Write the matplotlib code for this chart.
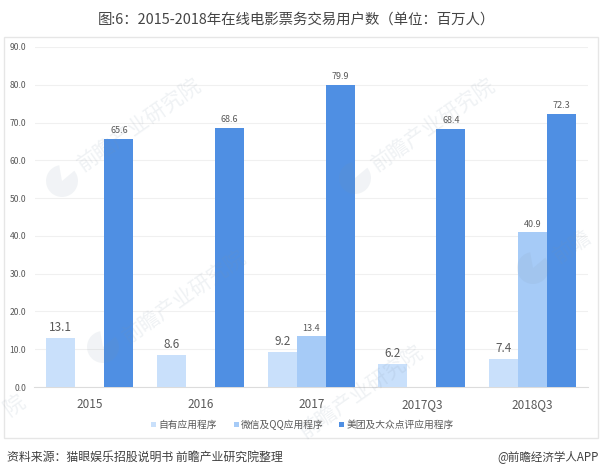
import matplotlib
matplotlib.use("Agg")
import matplotlib.pyplot as plt
from matplotlib.patches import Rectangle, Wedge
from matplotlib.transforms import IdentityTransform
import numpy as np

plt.rcParams['font.family'] = ['Noto Sans CJK SC', 'DejaVu Sans']

# data, None = no bar
categories = ['2015', '2016', '2017', '2017Q3', '2018Q3']
own_app = [13.1, 8.6, 9.2, 6.2, 7.4]
wechat_qq = [None, None, 13.4, None, 40.9]
meituan = [65.6, 68.6, 79.9, 68.4, 72.3]
series_names = ['自有应用程序', '微信及QQ应用程序', '美团及大众点评应用程序']
y_ticks = [0, 10, 20, 30, 40, 50, 60, 70, 80, 90]

colors = ['#c9e0fb', '#a6cbf7', '#4f8fe3']
W, H = 600, 473

fig = plt.figure(figsize=(W / 100, H / 100), dpi=100)

# outer frame
fig.add_artist(Rectangle((3.5 / W, 1 - 437.5 / H), 594 / W, 400.5 / H, transform=fig.transFigure,
                         fill=False, ec='#e6e6e6', lw=1))

ax = fig.add_axes([34.5 / W, 1 - 387 / H, 553.5 / W, 340 / H])
x = np.arange(len(categories))
w = 0.262

for i, vals in enumerate([own_app, wechat_qq, meituan]):
    for j, v in enumerate(vals):
        if v is None:
            continue
        ax.bar(x[j] + (i - 1) * w, v, w, color=colors[i], zorder=3)
        # first series has bigger labels in the source
        if i == 0:
            ax.text(x[j] + (i - 1) * w, v + 1.0, '%.1f' % v, ha='center', va='bottom',
                    fontsize=8.5, color='#595959', zorder=5)
        else:
            ax.text(x[j] + (i - 1) * w, v + 1.0, '%.1f' % v, ha='center', va='bottom',
                    fontsize=6.5, color='#595959', zorder=5)

ax.set_xlim(-0.5, len(categories) - 0.5)
ax.set_ylim(0, 90)
ax.set_yticks(y_ticks)
ax.set_yticklabels(['%.1f' % t for t in y_ticks], fontsize=6.2, color='#595959')
ax.set_xticks(x)
ax.set_xticklabels(categories, fontsize=8.5, color='#595959')
ax.tick_params(axis='both', length=0)
ax.tick_params(axis='x', pad=8)
ax.tick_params(axis='y', pad=6)
ax.grid(axis='y', color='#f0f0f0', lw=0.8, zorder=0)
ax.set_axisbelow(True)
for s in ['top', 'right', 'left']:
    ax.spines[s].set_visible(False)
ax.spines['bottom'].set_color('#dcdcdc')
ax.patch.set_alpha(0)

# watermarks, the two at the edges only show part of the text
wm_texts = [('前瞻产业研究院', 140, 125), ('前瞻产业研究院', 434, 125), ('前瞻产业研究院', 185, 297),
            ('前瞻产业研究院', 362, 392), ('前瞻', 572, 246), ('院', 14, 405)]
for txt, wx, wy in wm_texts:
    fig.text(wx / W, 1 - wy / H, txt, fontsize=15, color='#7f93a8', alpha=0.12,
             rotation=35, ha='center', va='center', zorder=10)
for cx, cy in [(62, 181), (355, 178), (103, 347), (533, 268)]:
    fig.add_artist(Wedge((cx, H - cy), 16, 100, 40, transform=IdentityTransform(),
                         color='#7f93a8', alpha=0.10, lw=0, zorder=10))

# legend drawn by hand to keep small square markers
leg_items = [(151, 158.5), (234, 241), (339, 346.5)]
for (mx, tx), c, name in zip(leg_items, colors, series_names):
    fig.add_artist(Rectangle(((mx - 0.5) / W, 1 - 427 / H), 5 / W, 5 / H, transform=fig.transFigure,
                             color=c, lw=0))
    fig.text(tx / W, 1 - 424.5 / H, name, fontsize=7, color='#595959', ha='left', va='center')

fig.text(296 / W, 1 - 20 / H, '图:6：2015-2018年在线电影票务交易用户数（单位：百万人）', fontsize=10.4,
         color='#444444', ha='center', va='center')
fig.text(7 / W, 1 - 457 / H, '资料来源：猫眼娱乐招股说明书 前瞻产业研究院整理', fontsize=8.6,
         color='#404040', style='italic', ha='left', va='center')
fig.text(599 / W, 1 - 457 / H, '@前瞻经济学人APP', fontsize=8.3, color='#404040', ha='right', va='center')

fig.savefig('out.png', dpi=100)
